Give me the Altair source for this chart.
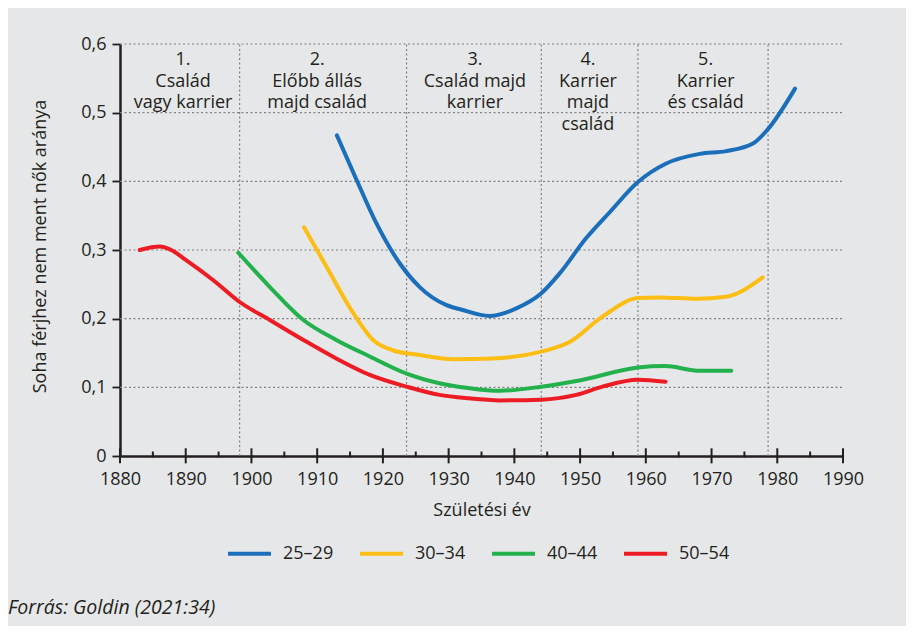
import altair as alt
import pandas as pd

# ---- data ----
series_names = ["25–29", "30–34", "40–44", "50–54"]
series_colors = ["#1b6fba", "#fcbd15", "#22b14c", "#ed1c24"]

years_25 = [1913, 1916, 1919, 1922.6, 1925.6, 1929.6, 1932, 1936.2, 1940.3, 1944.1, 1946.9, 1950.9,
            1954.5, 1958.8, 1963.1, 1968.2, 1972.2, 1976.3, 1978.5, 1982.7]
vals_25 = [0.467, 0.402, 0.339, 0.280, 0.246, 0.220, 0.213, 0.204, 0.215, 0.237, 0.266, 0.317,
           0.355, 0.399, 0.426, 0.440, 0.444, 0.455, 0.475, 0.535]

years_30 = [1908, 1911.4, 1915.5, 1918.5, 1921.5, 1925.6, 1930.7, 1936.7, 1944.1, 1948.4, 1953.4,
            1958.8, 1962.1, 1967.7, 1972.2, 1977.8]
vals_30 = [0.333, 0.276, 0.208, 0.169, 0.154, 0.147, 0.141, 0.142, 0.152, 0.166, 0.203,
           0.230, 0.231, 0.229, 0.232, 0.260]

years_40 = [1898, 1902.8, 1907.9, 1912.9, 1918, 1923.6, 1928.6, 1933, 1937.8, 1944.1, 1949.9,
            1958.8, 1962.9, 1968.2, 1973]
vals_40 = [0.296, 0.246, 0.198, 0.169, 0.145, 0.120, 0.106, 0.099, 0.095, 0.101, 0.110,
           0.129, 0.131, 0.124, 0.124]

years_50 = [1883, 1886.1, 1887.6, 1890.1, 1894.2, 1898.1, 1902.8, 1907.9, 1912.9, 1918, 1923.6,
            1928.6, 1933, 1937.8, 1944.1, 1949.4, 1953.4, 1958.8, 1963]
vals_50 = [0.300, 0.305, 0.301, 0.285, 0.256, 0.225, 0.198, 0.169, 0.142, 0.118, 0.101,
           0.089, 0.084, 0.081, 0.082, 0.089, 0.101, 0.111, 0.108]

x_ticks = list(range(1880, 1991, 10))
x_minor = list(range(1885, 1990, 10))
y_ticks = [0, 0.1, 0.2, 0.3, 0.4, 0.5, 0.6]
grid_y = [0.1, 0.2, 0.3, 0.4, 0.5, 0.6]
boundaries = [1898.2, 1923.6, 1944.1, 1958.8, 1978.6]

region_centers = [1889.6, 1910, 1934, 1951.2, 1969.1]
region_labels = [
    ["1.", "Család", "vagy karrier"],
    ["2.", "Előbb állás", "majd család"],
    ["3.", "Család majd", "karrier"],
    ["4.", "Karrier", "majd", "család"],
    ["5.", "Karrier", "és család"],
]
source_text = ["Forrás: Goldin (2021:34)"]

x_title = "Születési év"
y_title = "Soha férjhez nem ment nők aránya"

FONT = "Open Sans"
TXT = "#231f20"
BG = "#e6e7e8"
FS = 18

# ---- tables ----
rows = []
for name, yy, vv in [(series_names[0], years_25, vals_25), (series_names[1], years_30, vals_30),
                     (series_names[2], years_40, vals_40), (series_names[3], years_50, vals_50)]:
    for y, v in zip(yy, vv):
        rows.append({"year": y, "value": v, "series": name})
df = pd.DataFrame(rows)

xs = alt.Scale(domain=[1880, 1990], nice=False, zero=False)
ys = alt.Scale(domain=[0, 0.6], nice=False)

hgrid = alt.Chart(pd.DataFrame({"v": grid_y, "x1": 1880, "x2": 1990})).mark_rule(
    color="#808080", strokeWidth=1.2, strokeDash=[2, 2.5]
).encode(x=alt.X("x1:Q", scale=xs), x2="x2:Q", y=alt.Y("v:Q", scale=ys))

vgrid = alt.Chart(pd.DataFrame({"b": boundaries, "y1": 0.0, "y2": 0.6})).mark_rule(
    color="#808080", strokeWidth=1.2, strokeDash=[2, 2.5]
).encode(x=alt.X("b:Q", scale=xs), y=alt.Y("y1:Q", scale=ys), y2="y2:Q")

major = alt.Chart(pd.DataFrame({"t": x_ticks, "y1": -0.0107, "y2": 0.0112})).mark_rule(
    color=TXT, strokeWidth=2
).encode(x=alt.X("t:Q", scale=xs), y=alt.Y("y1:Q", scale=ys), y2="y2:Q")

minor = alt.Chart(pd.DataFrame({"t": x_minor, "y1": -0.002, "y2": 0.0065})).mark_rule(
    color=TXT, strokeWidth=2
).encode(x=alt.X("t:Q", scale=xs), y=alt.Y("y1:Q", scale=ys), y2="y2:Q")

lines = alt.Chart(df).mark_line(strokeWidth=4, interpolate="monotone", strokeCap="round").encode(
    x=alt.X("year:Q", scale=xs, title=x_title,
            axis=alt.Axis(values=x_ticks, format="d", ticks=False, grid=False, labelFlush=False,
                          labelOverlap=False,
                          domainColor=TXT, domainWidth=2.5, labelFontSize=FS, labelColor=TXT,
                          labelFont=FONT, labelPadding=14, titleFont=FONT, titleFontSize=FS,
                          titleColor=TXT, titleFontWeight="normal", titleBaseline="middle",
                          titleY=54)),
    y=alt.Y("value:Q", scale=ys, title=y_title,
            axis=alt.Axis(values=y_ticks, grid=False, tickSize=8, tickWidth=1.8, tickColor=TXT,
                          domainColor=TXT, domainWidth=2.5, labelFontSize=FS, labelColor=TXT,
                          labelFont=FONT, labelPadding=6, labelFlush=False,
                          labelExpr="datum.value == 0 ? '0' : replace(format(datum.value, '.1f'), '.', ',')",
                          titleFont=FONT, titleFontSize=FS, titleColor=TXT, titleFontWeight="normal",
                          titleX=-80, titleY=202, titleBaseline="middle", titleAngle=-90)),
    color=alt.Color("series:N", scale=alt.Scale(domain=series_names, range=series_colors),
                    legend=alt.Legend(title=None, orient="none", legendX=106, legendY=486,
                                      direction="horizontal", symbolType="stroke", symbolSize=1849,
                                      symbolStrokeWidth=4, labelFontSize=FS, labelFont=FONT,
                                      labelColor=TXT, labelOffset=10, columnPadding=18, padding=0)),
    order=alt.Order("year:Q"),
)

lab_df = pd.DataFrame({"x": region_centers, "txt": region_labels, "y": 0.6})
labels = alt.Chart(lab_df).mark_text(
    font=FONT, fontSize=FS, color=TXT, align="center", baseline="top", lineHeight=21.5, dy=7
).encode(x=alt.X("x:Q", scale=xs), y=alt.Y("y:Q", scale=ys), text="txt")

src = alt.Chart(pd.DataFrame({"t": source_text})).mark_text(
    font=FONT, fontSize=19.5, fontStyle="italic", color=TXT, align="left", baseline="middle"
).encode(x=alt.value(-112), y=alt.value(564), text="t:N")

chart = alt.layer(hgrid, vgrid, major, minor, lines, labels, src).properties(
    width=723, height=412, background=BG,
    autosize=alt.AutoSizeParams(type="none"),
    padding={"left": 112, "top": 36, "right": 63, "bottom": 170},
).configure_view(stroke=None)

chart.save("out.html", embed_options={"renderer": "svg", "actions": False})
